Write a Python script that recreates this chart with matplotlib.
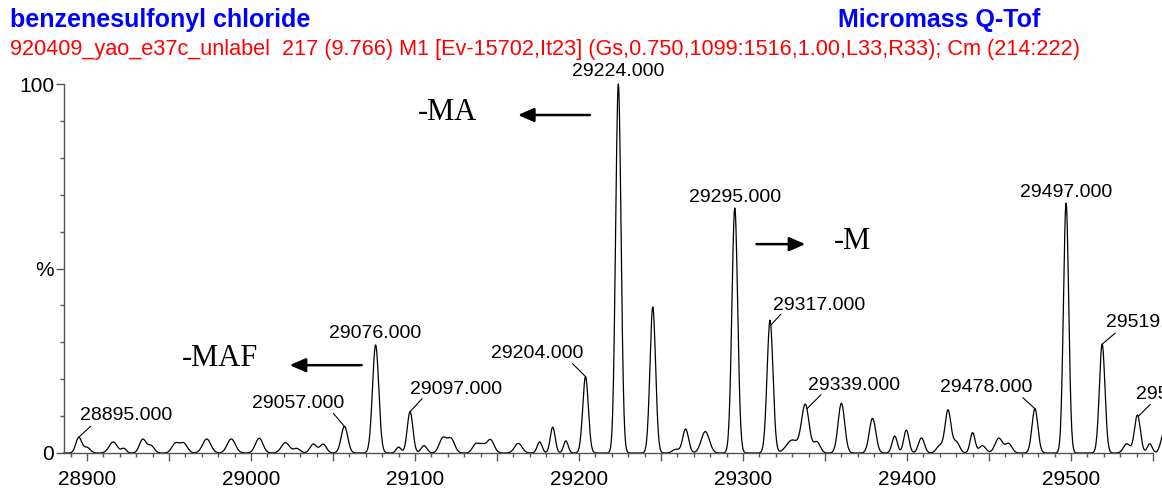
import numpy as np
import matplotlib
matplotlib.use("Agg")
import matplotlib.pyplot as plt
from matplotlib.ticker import MultipleLocator, FuncFormatter

plt.rcParams['font.family'] = ['Liberation Sans', 'DejaVu Sans']

# deconvoluted peaks: mass, relative intensity (%), gaussian width (Da)
peak_mass = [28895, 28900, 28916, 28922.5, 28934, 28939, 28954, 28959, 28973, 28988,
             29005, 29021, 29028, 29038, 29044, 29057, 29076, 29090, 29097, 29105.5,
             29117, 29122, 29137, 29141, 29146, 29163, 29176, 29184, 29192, 29204,
             29224, 29245, 29259, 29265, 29277, 29295, 29316.5, 29330, 29338, 29345,
             29360, 29379, 29392.5, 29399.6, 29408.8, 29420, 29425, 29430, 29440, 29446,
             29456, 29462, 29478, 29497, 29519, 29534, 29540.5, 29548, 29557]
peak_int = [4.2, 1.5, 3.0, 1.2, 3.7, 2.0, 2.6, 2.6, 3.8, 3.8,
            4.0, 2.8, 1.2, 2.4, 2.4, 7.2, 29.3, 1.6, 11.2, 2.0,
            4.0, 3.8, 2.3, 2.0, 3.6, 2.6, 3.0, 7.0, 3.3, 20.7,
            100.0, 39.6, 1.0, 6.5, 5.8, 66.4, 36.0, 3.5, 13.0, 3.0,
            13.5, 9.4, 4.6, 6.2, 4.1, 2.0, 11.5, 3.0, 5.5, 2.0,
            4.0, 2.5, 12.0, 67.7, 29.5, 2.5, 10.3, 2.5, 6.0]
peak_width = [1.8, 2.0, 2.5, 1.5, 2.0, 2.0, 2.2, 2.2, 2.5, 2.5,
              2.3, 2.5, 2.0, 2.0, 2.0, 2.0, 1.9, 1.5, 1.7, 1.8,
              2.2, 2.2, 2.0, 2.0, 2.2, 2.3, 1.5, 1.5, 1.4, 1.7,
              1.65, 1.7, 2.0, 1.8, 2.5, 1.75, 1.8, 3.5, 2.3, 2.0,
              2.0, 2.0, 1.6, 1.6, 1.8, 2.0, 1.8, 2.0, 1.5, 2.0,
              2.3, 2.0, 1.8, 1.6, 1.7, 2.0, 1.8, 1.5, 2.0]

# labelled peaks and where their text sits (pixels from the apex)
label_mass = [28895, 29057, 29076, 29097, 29204, 29224, 29295, 29317, 29339, 29478, 29497, 29519, 29541]
label_text = ["28895.000", "29057.000", "29076.000", "29097.000", "29204.000", "29224.000",
              "29295.000", "29317.000", "29339.000", "29478.000", "29497.000", "29519.000", "29541.000"]
label_off = [(47, 22), (-46, 23), (0, 11), (46, 22), (-48, 23), (0, 12),
             (0, 10), (48, 20), (47, 23), (-49, 21), (0, 11), (50, 22), (44, 22)]
lead_off = [(12, 11), (-11, 13), None, (12, 13), (-13, 13), None,
            None, (10, 11), (14, 14), (-12, 11), None, (13, 11), (12, 12)]

mz = np.arange(28886, 29556, 0.25)
inten = np.zeros_like(mz)
for m, h, w in zip(peak_mass, peak_int, peak_width):
    inten += h * np.exp(-0.5 * ((mz - m) / w) ** 2)

fig = plt.figure(figsize=(11.62, 4.88), dpi=100)
ax = fig.add_axes([64 / 1162, 35 / 488, (1153 - 64) / 1162, 369 / 488])

ax.plot(mz, inten, color='black', lw=0.9, clip_on=False)
ax.set_xlim(28886, 29550)
ax.set_ylim(0, 100)

for s in ['top', 'right']:
    ax.spines[s].set_visible(False)
for s in ['left', 'bottom']:
    ax.spines[s].set_color('#555555')
    ax.spines[s].set_linewidth(1.0)

ax.xaxis.set_major_locator(MultipleLocator(50))
ax.xaxis.set_minor_locator(MultipleLocator(10))
ax.xaxis.set_major_formatter(FuncFormatter(lambda v, p: '%d' % v if round(v) % 100 == 0 else ''))
ax.yaxis.set_major_locator(MultipleLocator(50))
ax.yaxis.set_minor_locator(MultipleLocator(10))
ax.yaxis.set_major_formatter(FuncFormatter(lambda v, p: {0: '0', 50: '%', 100: '100'}.get(int(round(v)), '')))
ax.tick_params(axis='both', which='major', length=6, width=1.0, color='#555555', labelsize=15)
ax.tick_params(axis='both', which='minor', length=3, width=1.0, color='#555555')
ax.tick_params(axis='x', which='major', pad=6)
ax.tick_params(axis='y', which='major', pad=1)

# peak labels with leader lines
for m, t, off, lead in zip(label_mass, label_text, label_off, lead_off):
    h = np.interp(m, mz, inten)
    ax.annotate(t, xy=(m, h), xytext=off, textcoords='offset pixels',
                ha='center', va='center', fontsize=14, annotation_clip=False)
    if lead is not None:
        ax.annotate('', xy=(m, h), xytext=lead, textcoords='offset pixels',
                    annotation_clip=False,
                    arrowprops=dict(arrowstyle='-', lw=0.8, color='black', shrinkA=0, shrinkB=0))

# fragment arrows
arrow_style = dict(arrowstyle='-|>,head_length=0.8,head_width=0.35', lw=1.8, color='black',
                   mutation_scale=12, shrinkA=0, shrinkB=0)
ax.annotate('', xy=(29162.8, 91.6), xytext=(29206.7, 91.6), arrowprops=arrow_style, annotation_clip=False)
ax.annotate('', xy=(29338, 56.6), xytext=(29308.2, 56.6), arrowprops=arrow_style, annotation_clip=False)
ax.annotate('', xy=(29023.6, 23.8), xytext=(29067.5, 23.8), arrowprops=arrow_style, annotation_clip=False)
serif = ['Liberation Serif', 'DejaVu Serif']
ax.text(29119.9, 92.4, '-MA', family=serif, fontsize=22, ha='center', va='center')
ax.text(29366.9, 57.2, '-M', family=serif, fontsize=22, ha='center', va='center')
ax.text(28981, 25.7, '-MAF', family=serif, fontsize=22, ha='center', va='center')

# header
fig.text(10 / 1162, 1 - 27 / 488, 'benzenesulfonyl chloride', color='#0000ff',
         fontsize=18, fontweight='bold', ha='left', va='baseline')
fig.text(838 / 1162, 1 - 27 / 488, 'Micromass Q-Tof', color='#0000ff',
         fontsize=18, fontweight='bold', ha='left', va='baseline')
fig.text(10 / 1162, 1 - 55 / 488,
         '920409_yao_e37c_unlabel  217 (9.766) M1 [Ev-15702,It23] (Gs,0.750,1099:1516,1.00,L33,R33); Cm (214:222)',
         color='#ff0000', fontsize=15.6, ha='left', va='baseline')

fig.savefig('out.png', dpi=100)
